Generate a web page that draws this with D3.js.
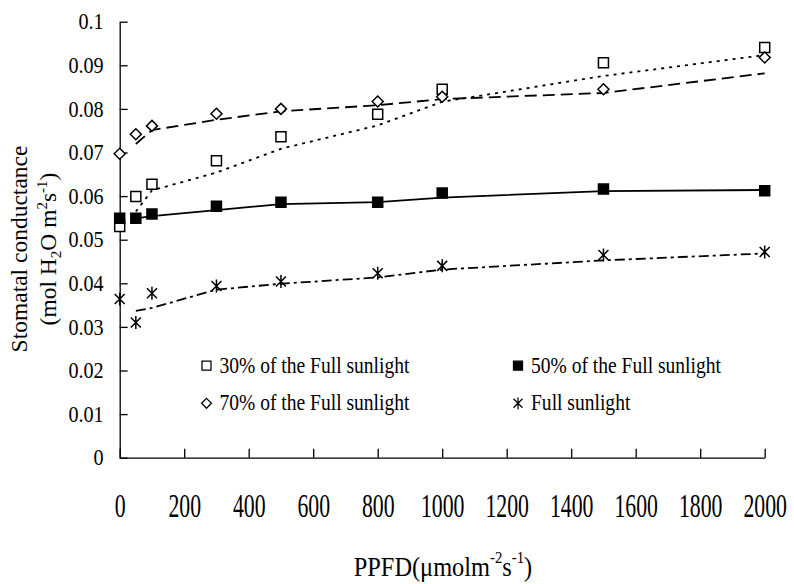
<!DOCTYPE html>
<html>
<head>
<meta charset="utf-8">
<script src="https://cdn.jsdelivr.net/npm/d3@7"></script>
<style>
  body { margin: 0; background: #fff; }
  svg { display: block; }
  svg text { font-family: "Liberation Serif", "Times New Roman", "DejaVu Serif", serif !important; fill: #000; }
</style>
</head>
<body>
<svg id="chart" width="794" height="584"></svg>
<script>
// PPFD levels (x) and stomatal conductance per light treatment
var ppfd = [0, 50, 100, 300, 500, 800, 1000, 1500, 2000];
var sun30 = [0.0530, 0.0599, 0.0627, 0.0681, 0.0736, 0.0788, 0.0845, 0.0906, 0.0941];
var sun50 = [0.0549, 0.0549, 0.0559, 0.0577, 0.0586, 0.0586, 0.0607, 0.0616, 0.0612];
var sun70 = [0.0697, 0.0742, 0.0761, 0.0789, 0.0800, 0.0817, 0.0828, 0.0845, 0.0918];
var sunFull = [0.0364, 0.0310, 0.0377, 0.0394, 0.0404, 0.0423, 0.0440, 0.0465, 0.0472];
var seriesNames = ["30% of the Full sunlight", "50% of the Full sunlight", "70% of the Full sunlight", "Full sunlight"];
var xTicks = [0, 200, 400, 600, 800, 1000, 1200, 1400, 1600, 1800, 2000];
var yTicks = [0, 0.01, 0.02, 0.03, 0.04, 0.05, 0.06, 0.07, 0.08, 0.09, 0.1];

var svg = d3.select("#chart");

var x = d3.scaleLinear().domain([0, 2000]).range([119.7, 764.7]);
var y = d3.scaleLinear().domain([0, 0.1]).range([457.7, 21.7]);

// marker shapes, drawn around 0,0
function markerPath(type) {
  if (type == "square") return "M-5,-5H5V5H-5Z";
  if (type == "diamond") return "M0,-5.5L5.5,0L0,5.5L-5.5,0Z";
  return "M-5,-5L5,5M-5,5L5,-5M0,-6.5V6.5";
}

var series = [
  {name: seriesNames[0], values: sun30, marker: "square", fill: "#fff", dash: "3,5"},
  {name: seriesNames[1], values: sun50, marker: "square", fill: "#000", dash: null},
  {name: seriesNames[2], values: sun70, marker: "diamond", fill: "#fff", dash: "12,6"},
  {name: seriesNames[3], values: sunFull, marker: "star", fill: "none", dash: "10,4,3,4"}
];

// 2-period moving average trendline, as in the original figure
series.forEach(function(s) {
  s.points = ppfd.map(function(p, i) { return {x: p, y: s.values[i]}; });
  s.trend = s.points.slice(1).map(function(d, i) {
    return {x: d.x, y: d3.mean([s.points[i].y, d.y])};
  });
});

// axes
var xAxis = svg.append("g")
  .attr("transform", "translate(0," + y(0) + ")")
  .call(d3.axisBottom(x).tickValues(xTicks).tickSizeInner(-9).tickSizeOuter(0).tickFormat(d3.format("d")));
xAxis.selectAll("text")
  .attr("y", 0).attr("dy", null)
  .attr("transform", "translate(0,59) scale(0.66,1)")
  .style("font-size", "33px");

var yAxis = svg.append("g")
  .attr("transform", "translate(" + x(0) + ",0)")
  .call(d3.axisLeft(y).tickValues(yTicks).tickSizeInner(-8).tickSizeOuter(0)
    .tickFormat(function(d) { return d == 0 ? "0" : String(+d.toFixed(2)); }));
yAxis.selectAll("text")
  .attr("x", 0).attr("dy", "0.34em")
  .attr("transform", "translate(-16,-1) scale(0.84,1)")
  .style("font-size", "24px");

svg.selectAll(".domain, .tick line").attr("stroke", "#000").attr("stroke-width", 1.3);

// trendlines
var line = d3.line().x(function(d) { return x(d.x); }).y(function(d) { return y(d.y); });
svg.append("g").selectAll("path")
  .data(series).enter().append("path")
  .attr("d", function(s) { return line(s.trend); })
  .attr("fill", "none")
  .attr("stroke", "#000")
  .attr("stroke-width", 1.8)
  .attr("stroke-dasharray", function(s) { return s.dash; });

// markers
series.forEach(function(s) {
  svg.append("g").selectAll("path")
    .data(s.points).enter().append("path")
    .attr("transform", function(d) { return "translate(" + x(d.x) + "," + y(d.y) + ")"; })
    .attr("d", markerPath(s.marker))
    .attr("fill", s.fill)
    .attr("stroke", "#000")
    .attr("stroke-width", 1.5);
});

// legend
var legendPos = [[206.5, 365.7], [518, 365.7], [206.5, 403.3], [518, 403.3]];
var legend = svg.append("g").selectAll("g")
  .data(series).enter().append("g")
  .attr("transform", function(s, i) { return "translate(" + legendPos[i][0] + "," + legendPos[i][1] + ")"; });
legend.append("path")
  .attr("d", function(s) { return markerPath(s.marker); })
  .attr("transform", "scale(0.9)")
  .attr("fill", function(s) { return s.fill; })
  .attr("stroke", "#000")
  .attr("stroke-width", 1.4);
legend.append("text")
  .attr("transform", "translate(13,7) scale(0.85,1)")
  .style("font-size", "23px")
  .text(function(s) { return s.name; });

// x axis title
var xt = svg.append("text")
  .attr("transform", "translate(443,576) scale(0.87,1)")
  .attr("text-anchor", "middle")
  .style("font-size", "28px");
xt.append("tspan").text("PPFD(\u03bcmolm");
xt.append("tspan").attr("dy", -13).style("font-size", "17px").text("-2");
xt.append("tspan").attr("dy", 13).text("s");
xt.append("tspan").attr("dy", -13).style("font-size", "17px").text("-1");
xt.append("tspan").attr("dy", 13).text(")");

// y axis title
svg.append("text")
  .attr("transform", "translate(27,249) rotate(-90)")
  .attr("text-anchor", "middle")
  .style("font-size", "23.5px")
  .text("Stomatal conductance");
var yt = svg.append("text")
  .attr("transform", "translate(56,249) rotate(-90)")
  .attr("text-anchor", "middle")
  .style("font-size", "23.5px");
yt.append("tspan").text("(mol H");
yt.append("tspan").attr("dy", 5).style("font-size", "15px").text("2");
yt.append("tspan").attr("dy", -5).text("O m");
yt.append("tspan").attr("dy", -9).style("font-size", "15px").text("2");
yt.append("tspan").attr("dy", 9).text("s");
yt.append("tspan").attr("dy", -9).style("font-size", "15px").text("-1");
yt.append("tspan").attr("dy", 9).text(")");
</script>
</body>
</html>
